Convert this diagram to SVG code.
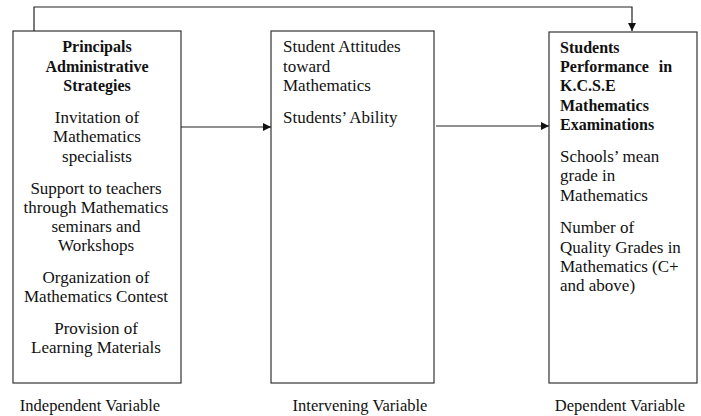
<svg xmlns="http://www.w3.org/2000/svg" width="701" height="416" viewBox="0 0 701 416">
  <style>
    .box { fill: #ffffff; stroke: #333333; stroke-width: 1.2; }
    .wire { fill: none; stroke: #222222; stroke-width: 1.2; }
    text { font-family: "Liberation Serif", "Times New Roman", serif; font-size: 17px; fill: #111111; }
    .b { font-weight: bold; font-size: 16px; }
    .c { text-anchor: middle; }
    .lbl { font-size: 16.5px; }
  </style>
  <defs>
    <marker id="arrow" viewBox="0 0 10 10" refX="10" refY="5" markerWidth="8" markerHeight="8" markerUnits="userSpaceOnUse" orient="auto">
      <path d="M0,0 L10,5 L0,10 z" fill="#111111"/>
    </marker>
  </defs>
  <rect width="701" height="416" fill="#ffffff"/>

  <g id="independent">
    <rect class="box" x="13" y="31" width="168" height="352"/>
    <text class="b c" x="97" y="52">Principals</text>
    <text class="b c" x="97" y="72">Administrative</text>
    <text class="b c" x="97" y="91">Strategies</text>
    <text class="c" x="97" y="123">Invitation of</text>
    <text class="c" x="97" y="142">Mathematics</text>
    <text class="c" x="97" y="162">specialists</text>
    <text class="c" x="96" y="194">Support to teachers</text>
    <text class="c" x="96" y="213">through Mathematics</text>
    <text class="c" x="96" y="232">seminars and</text>
    <text class="c" x="96" y="251">Workshops</text>
    <text class="c" x="96" y="283">Organization of</text>
    <text class="c" x="96" y="302">Mathematics Contest</text>
    <text class="c" x="96" y="334">Provision of</text>
    <text class="c" x="96" y="353">Learning Materials</text>
    <text class="c lbl" x="90" y="411">Independent Variable</text>
  </g>

  <g id="intervening">
    <rect class="box" x="271" y="31" width="163" height="352"/>
    <text x="283" y="52">Student Attitudes</text>
    <text x="283" y="72">toward</text>
    <text x="283" y="91">Mathematics</text>
    <text x="283" y="123">Students’ Ability</text>
    <text class="c lbl" x="360" y="411">Intervening Variable</text>
  </g>

  <g id="dependent">
    <rect class="box" x="549" y="32" width="148" height="351"/>
    <text class="b" x="560" y="53">Students</text>
    <text class="b" x="560" y="72" word-spacing="6">Performance in</text>
    <text class="b" x="560" y="91">K.C.S.E</text>
    <text class="b" x="560" y="111">Mathematics</text>
    <text class="b" x="560" y="130">Examinations</text>
    <text x="560" y="162">Schools’ mean</text>
    <text x="560" y="181">grade in</text>
    <text x="560" y="201">Mathematics</text>
    <text x="560" y="233">Number of</text>
    <text x="560" y="253">Quality Grades in</text>
    <text x="560" y="272">Mathematics (C+</text>
    <text x="560" y="291">and above)</text>
    <text class="c lbl" x="620" y="411">Dependent Variable</text>
  </g>

  <g id="connectors">
    <polyline class="wire" points="34,31 34,7 632,7 632,31" marker-end="url(#arrow)"/>
    <line class="wire" x1="181" y1="127" x2="271" y2="127" marker-end="url(#arrow)"/>
    <line class="wire" x1="436" y1="126" x2="549" y2="126" marker-end="url(#arrow)"/>
  </g>
</svg>
